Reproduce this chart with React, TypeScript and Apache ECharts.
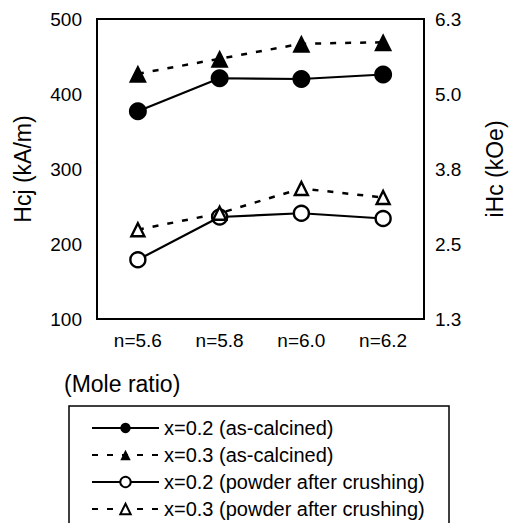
import React, { useEffect, useRef } from "react";
import * as echarts from "echarts";

const categories = ["n=5.6", "n=5.8", "n=6.0", "n=6.2"];
const x02Calcined = [377, 421, 420, 426];
const x03Calcined = [427, 447, 467, 469];
const x02Crushed = [179, 236, 241, 234];
const x03Crushed = [219, 241, 274, 262];
const leftTicks = [100, 200, 300, 400, 500];
const rightLabels = ["1.3", "2.5", "3.8", "5.0", "6.3"];
const seriesNames = [
  "x=0.2 (as-calcined)",
  "x=0.3 (as-calcined)",
  "x=0.2 (powder after crushing)",
  "x=0.3 (powder after crushing)",
];

const FONT = "'Liberation Sans', Arial, Helvetica, sans-serif";

export default function App() {
  const ref = useRef<HTMLDivElement>(null);
  useEffect(() => {
    if (!ref.current) return;
    const chart = echarts.init(ref.current, undefined, { renderer: "svg" });
    const dashed = [6, 9];
    chart.setOption({
      animation: false,
      backgroundColor: "#ffffff",
      textStyle: { fontFamily: FONT, color: "#000" },
      grid: {
        left: 97,
        right: 94,
        top: 19,
        bottom: 204,
        show: true,
        borderColor: "#000",
        borderWidth: 2,
        backgroundColor: "transparent",
      },
      xAxis: {
        type: "category",
        data: categories,
        boundaryGap: true,
        axisLine: { lineStyle: { color: "#000", width: 2 } },
        axisTick: { show: false },
        axisLabel: { color: "#000", fontSize: 19, fontFamily: FONT, margin: 12 },
        splitLine: { show: false },
      },
      yAxis: [
        {
          type: "value",
          min: leftTicks[0],
          max: leftTicks[leftTicks.length - 1],
          interval: 100,
          name: "Hcj (kA/m)",
          nameLocation: "middle",
          nameRotate: 90,
          nameGap: 63,
          nameTextStyle: { fontSize: 23, fontFamily: FONT, color: "#000" },
          axisLine: { show: true, lineStyle: { color: "#000", width: 2 } },
          axisTick: { show: false },
          axisLabel: { color: "#000", fontSize: 19, fontFamily: FONT, margin: 15 },
          splitLine: { show: false },
        },
        {
          type: "value",
          position: "right",
          min: leftTicks[0],
          max: leftTicks[leftTicks.length - 1],
          interval: 100,
          name: "iHc (kOe)",
          nameLocation: "middle",
          nameRotate: 90,
          nameGap: 59,
          nameTextStyle: { fontSize: 23, fontFamily: FONT, color: "#000" },
          axisLine: { show: true, lineStyle: { color: "#000", width: 2 } },
          axisTick: { show: false },
          axisLabel: {
            color: "#000",
            fontSize: 19,
            fontFamily: FONT,
            margin: 11,
            formatter: (v: number) => rightLabels[leftTicks.indexOf(v)] ?? "",
          },
          splitLine: { show: false },
        },
      ],
      legend: {
        orient: "vertical",
        left: 91,
        top: 418,
        itemWidth: 67,
        itemHeight: 13,
        itemGap: 7,
        padding: 0,
        textStyle: { fontSize: 20, fontFamily: FONT, color: "#000" },
        data: seriesNames,
      },
      series: [
        {
          name: seriesNames[0],
          type: "line",
          data: x02Calcined,
          symbol: "circle",
          symbolSize: 18,
          itemStyle: { color: "#000" },
          lineStyle: { color: "#000", width: 2.2 },
        },
        {
          name: seriesNames[1],
          type: "line",
          data: x03Calcined,
          symbol: "triangle",
          symbolSize: 18,
          itemStyle: { color: "#000" },
          lineStyle: { color: "#000", width: 2.5, type: dashed },
        },
        {
          name: seriesNames[2],
          type: "line",
          data: x02Crushed,
          symbol: "circle",
          symbolSize: 15,
          itemStyle: { color: "#fff", borderColor: "#000", borderWidth: 2.4 },
          lineStyle: { color: "#000", width: 2.2 },
        },
        {
          name: seriesNames[3],
          type: "line",
          data: x03Crushed,
          symbol: "triangle",
          symbolSize: 13,
          itemStyle: { color: "#fff", borderColor: "#000", borderWidth: 2.4 },
          lineStyle: { color: "#000", width: 2.5, type: dashed },
        },
      ],
      graphic: [
        {
          type: "text",
          left: 64,
          top: 372,
          style: { text: "(Mole ratio)", fontSize: 23, fontFamily: FONT, fill: "#000" },
        },
        {
          type: "rect",
          shape: { x: 69, y: 406, width: 380, height: 130 },
          style: { fill: "none", stroke: "#000", lineWidth: 1.5 },
          z: -1,
        },
      ],
    });
    return () => chart.dispose();
  }, []);
  return (
    <div
      ref={ref}
      style={{ position: "fixed", left: 0, top: 0, width: 518, height: 523 }}
    />
  );
}
